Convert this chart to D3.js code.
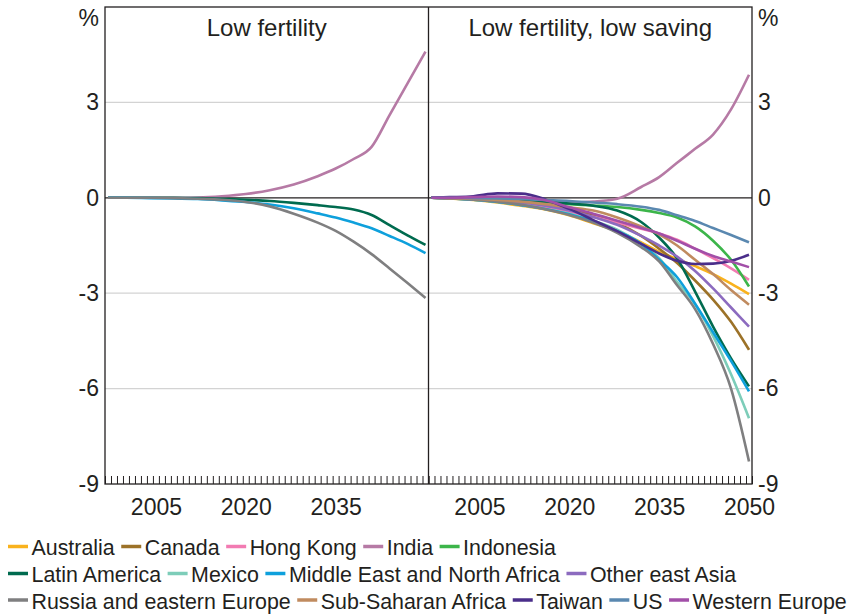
<!DOCTYPE html>
<html><head><meta charset="utf-8">
<script src="https://cdn.jsdelivr.net/npm/d3@7"></script>
<style>body{margin:0;background:#fff} svg{display:block;font-family:"Liberation Sans",Arial,sans-serif}</style>
</head><body><svg id="c" width="855" height="615"></svg>
<script>
// ---------- DATA ----------
const years = [1997, 2000, 2004, 2008, 2012, 2016, 2020, 2024, 2028, 2032, 2035, 2038, 2041, 2044, 2047, 2050];
const panelTitles = ["Low fertility", "Low fertility, low saving"];
const yTickValues = [3, 0, -3, -6, -9];
const xTickLabelsLeft = [2005, 2020, 2035];
const xTickLabelsRight = [2005, 2020, 2035, 2050];

const seriesNames = ["Australia", "Canada", "Hong Kong", "India", "Indonesia",
  "Latin America", "Mexico", "Middle East and North Africa", "Other east Asia",
  "Russia and eastern Europe", "Sub-Saharan Africa", "Taiwan", "US", "Western Europe"];
const seriesColors = ["#f9b21d", "#9c7228", "#f27bb2", "#b67aa5", "#3cb54a",
  "#006b4f", "#7dcdb9", "#0ea0dc", "#8c6bbf",
  "#7f7f80", "#c08b5f", "#4a2e8a", "#5a88b0", "#a24fa8"];

// Left panel: Low fertility
const lfIndia  = [0, 0, 0, 0, 0.01, 0.05, 0.12, 0.24, 0.42, 0.68, 0.92, 1.22, 1.6, 2.6, 3.6, 4.6];
const lfLatAm  = [0, 0, 0, 0, -0.01, -0.03, -0.06, -0.1, -0.16, -0.23, -0.29, -0.37, -0.54, -0.86, -1.18, -1.48];
const lfMENA   = [0, 0, -0.01, -0.02, -0.04, -0.08, -0.13, -0.21, -0.33, -0.49, -0.62, -0.78, -0.96, -1.2, -1.45, -1.74];
const lfRussia = [0, 0, 0, -0.01, -0.03, -0.06, -0.13, -0.27, -0.5, -0.78, -1.04, -1.38, -1.77, -2.22, -2.68, -3.15];

// Right panel: Low fertility, low saving
const lsAustralia = [0, -0.02, -0.07, -0.15, -0.25, -0.37, -0.55, -0.8, -1.05, -1.4, -1.7, -1.92, -2.15, -2.4, -2.7, -3.03];
const lsCanada    = [0, -0.01, -0.04, -0.08, -0.15, -0.25, -0.38, -0.55, -0.8, -1.2, -1.6, -2.05, -2.6, -3.2, -3.9, -4.78];
const lsHongKong  = [0, -0.01, -0.04, -0.1, -0.18, -0.3, -0.45, -0.6, -0.78, -0.97, -1.12, -1.32, -1.6, -1.9, -2.22, -2.58];
const lsIndia     = [0, 0, -0.01, -0.02, -0.05, -0.1, -0.15, -0.12, -0.03, 0.34, 0.65, 1.1, 1.54, 1.99, 2.78, 3.87];
const lsIndonesia = [0, -0.01, -0.03, -0.06, -0.1, -0.15, -0.2, -0.24, -0.29, -0.38, -0.48, -0.62, -0.9, -1.35, -1.95, -2.79];
const lsLatAm     = [0, 0, -0.02, -0.05, -0.08, -0.12, -0.18, -0.25, -0.4, -0.76, -1.25, -1.91, -2.95, -4.05, -5.05, -5.93];
const lsMexico    = [0, -0.02, -0.06, -0.12, -0.22, -0.35, -0.5, -0.72, -1.0, -1.45, -1.9, -2.65, -3.35, -4.35, -5.55, -6.93];
const lsMENA      = [0, -0.02, -0.06, -0.13, -0.23, -0.35, -0.52, -0.75, -1.05, -1.45, -1.95, -2.5, -3.33, -4.23, -5.13, -6.09];
const lsOtherEA   = [0, -0.01, -0.04, -0.08, -0.15, -0.25, -0.4, -0.6, -0.85, -1.2, -1.5, -1.85, -2.3, -2.85, -3.45, -4.05];
const lsRussia    = [0, -0.02, -0.06, -0.12, -0.22, -0.36, -0.54, -0.78, -1.1, -1.55, -2.0, -2.75, -3.5, -4.6, -6.0, -8.29];
const lsSSA       = [0, -0.01, -0.03, -0.07, -0.12, -0.2, -0.3, -0.4, -0.62, -0.9, -1.15, -1.5, -1.95, -2.4, -2.9, -3.36];
const lsTaiwan    = [0, 0.02, 0.05, 0.14, 0.13, -0.05, -0.35, -0.7, -1.05, -1.45, -1.75, -1.98, -2.08, -2.07, -1.98, -1.79];
const lsUS        = [0, 0, -0.01, -0.02, -0.04, -0.07, -0.1, -0.15, -0.2, -0.28, -0.38, -0.55, -0.73, -0.95, -1.17, -1.4];
const lsWEurope   = [0, 0, 0.02, 0.04, 0.02, -0.08, -0.3, -0.5, -0.72, -0.95, -1.12, -1.35, -1.6, -1.83, -2.0, -2.18];

const leftData = {
  "India": lfIndia, "Latin America": lfLatAm,
  "Middle East and North Africa": lfMENA, "Russia and eastern Europe": lfRussia
};
const rightData = {
  "Australia": lsAustralia, "Canada": lsCanada, "Hong Kong": lsHongKong, "India": lsIndia,
  "Indonesia": lsIndonesia, "Latin America": lsLatAm, "Mexico": lsMexico,
  "Middle East and North Africa": lsMENA, "Other east Asia": lsOtherEA,
  "Russia and eastern Europe": lsRussia, "Sub-Saharan Africa": lsSSA,
  "Taiwan": lsTaiwan, "US": lsUS, "Western Europe": lsWEurope
};

// ---------- LAYOUT ----------
const svg = d3.select("#c");
const yTop = 7, yBottom = 484;
const panels = [
  {x0: 105, x1: 428.5, data: leftData, title: panelTitles[0], labels: xTickLabelsLeft},
  {x0: 428.5, x1: 752, data: rightData, title: panelTitles[1], labels: xTickLabelsRight}
];
const textColor = "#231f20";
const y = d3.scaleLinear().domain([-9, 6]).range([yBottom, yTop]);
const color = d3.scaleOrdinal().domain(seriesNames).range(seriesColors);

panels.forEach(p => {
  const x = d3.scaleLinear().domain([1996.5, 2050.5]).range([p.x0, p.x1]);
  const g = svg.append("g");
  g.selectAll("line.grid").data([3, -3, -6]).join("line")
    .attr("x1", p.x0).attr("x2", p.x1)
    .attr("y1", d => y(d)).attr("y2", d => y(d))
    .attr("stroke", "#d3d3d3").attr("stroke-width", 1.2);
  const bounds = d3.range(1996.5, 2051, 1);
  g.append("g").attr("transform", `translate(0,${yBottom})`)
    .call(d3.axisTop(x).tickValues(bounds).tickSize(8).tickFormat(""))
    .call(a => a.select(".domain").remove())
    .call(a => a.selectAll("line").attr("stroke", "#231f20").attr("stroke-width", 1));
  g.append("g").attr("transform", `translate(0,${yBottom})`)
    .call(d3.axisBottom(x).tickValues(p.labels).tickSize(0).tickPadding(15).tickFormat(d3.format("d")))
    .call(a => a.select(".domain").remove())
    .call(a => a.selectAll("text").attr("font-size", 23).attr("fill", textColor)
      .attr("font-family", "Liberation Sans, Arial, sans-serif"));
  g.append("line").attr("x1", p.x0).attr("x2", p.x1)
    .attr("y1", y(0)).attr("y2", y(0)).attr("stroke", "#231f20").attr("stroke-width", 1.2);
  const line = d3.line().x((d, i) => x(years[i])).y(d => y(d)).curve(d3.curveMonotoneX);
  seriesNames.filter(n => p.data[n]).forEach(n => {
    g.append("path").attr("d", line(p.data[n])).attr("fill", "none")
      .attr("stroke", color(n)).attr("stroke-width", 2.6).attr("stroke-linejoin", "round");
  });
  g.append("text").attr("x", (p.x0 + p.x1) / 2).attr("y", 36).attr("text-anchor", "middle")
    .attr("font-size", 24).attr("fill", textColor).text(p.title);
});

svg.append("rect").attr("x", 105).attr("y", yTop).attr("width", 752 - 105).attr("height", yBottom - yTop)
  .attr("fill", "none").attr("stroke", "#231f20").attr("stroke-width", 1.3);
svg.append("line").attr("x1", 428.5).attr("x2", 428.5).attr("y1", yTop).attr("y2", yBottom)
  .attr("stroke", "#231f20").attr("stroke-width", 1.3);

const fmtY = d => String(d);
svg.append("g").attr("transform", "translate(105,0)")
  .call(d3.axisLeft(y).tickValues(yTickValues).tickSize(0).tickPadding(6).tickFormat(fmtY))
  .call(a => a.select(".domain").remove())
  .call(a => a.selectAll("text").attr("font-size", 23).attr("fill", textColor)
    .attr("font-family", "Liberation Sans, Arial, sans-serif"));
svg.append("g").attr("transform", "translate(752,0)")
  .call(d3.axisRight(y).tickValues(yTickValues).tickSize(0).tickPadding(6).tickFormat(fmtY))
  .call(a => a.select(".domain").remove())
  .call(a => a.selectAll("text").attr("font-size", 23).attr("fill", textColor)
    .attr("font-family", "Liberation Sans, Arial, sans-serif"));
svg.append("text").attr("x", 99).attr("y", 26).attr("text-anchor", "end")
  .attr("font-size", 23).attr("fill", textColor).text("%");
svg.append("text").attr("x", 758).attr("y", 26).attr("text-anchor", "start")
  .attr("font-size", 23).attr("fill", textColor).text("%");

const legendRows = [
  ["Australia", "Canada", "Hong Kong", "India", "Indonesia"],
  ["Latin America", "Mexico", "Middle East and North Africa", "Other east Asia"],
  ["Russia and eastern Europe", "Sub-Saharan Africa", "Taiwan", "US", "Western Europe"]
];
const legBase = [555, 582, 608.5];
legendRows.forEach((row, r) => {
  let cx = 8;
  row.forEach(n => {
    svg.append("line").attr("x1", cx).attr("x2", cx + 20)
      .attr("y1", legBase[r] - 8.5).attr("y2", legBase[r] - 8.5)
      .attr("stroke", color(n)).attr("stroke-width", 3.5);
    const t = svg.append("text").attr("x", cx + 23.5).attr("y", legBase[r])
      .attr("font-size", 21.4).attr("fill", textColor).text(n);
    cx += 23.5 + t.node().getComputedTextLength() + 6.5;
  });
});
</script>
</body></html>
